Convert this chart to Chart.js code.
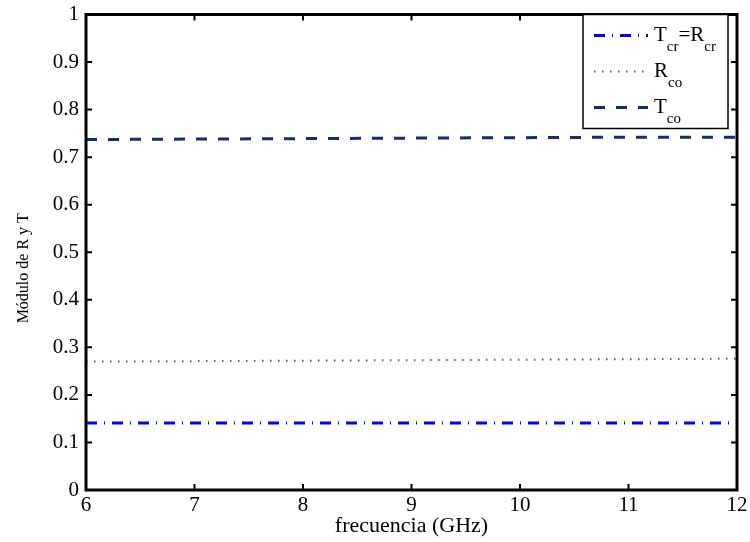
<!DOCTYPE html>
<html>
<head>
<meta charset="utf-8">
<script src="https://cdn.jsdelivr.net/npm/chart.js@4"></script>
<style>
  html, body { margin: 0; padding: 0; background: #fff; }
  #wrap { width: 750px; height: 542px; }
</style>
</head>
<body>
<div id="wrap"><canvas id="chart" width="750" height="542"></canvas></div>
<script>
// frequencies (GHz) read at the x ticks
const freqs = [6, 7, 8, 9, 10, 11, 12];

// |R| and |T| values
const tcrValues = [0.141, 0.141, 0.141, 0.141, 0.141, 0.141, 0.141];
const rcoValues = [0.270, 0.271, 0.272, 0.273, 0.274, 0.275, 0.276];
const tcoValues = [0.737, 0.738, 0.739, 0.740, 0.741, 0.742, 0.742];

// legend entries: main letter + subscript parts
const legendEntries = [
    { parts: [['T', 'cr'], ['=R', 'cr']], color: '#0000ff', width: 3, dash: [11, 7, 1, 7] },
    { parts: [['R', 'co']], color: 'rgb(30,140,30)', width: 2, dash: [1.5, 6.5] },
    { parts: [['T', 'co']], color: 'rgb(20,45,115)', width: 3, dash: [11, 11] }
];

const serif = '"Liberation Serif", "DejaVu Serif", serif';

function toPoints(values) {
    return freqs.map((f, i) => ({ x: f, y: values[i] }));
}

// box around the axes and ticks pointing inward (MATLAB style)
const boxPlugin = {
    id: 'boxPlugin',
    afterDraw(chart) {
        const ctx = chart.ctx;
        const area = chart.chartArea;
        const xs = chart.scales.x;
        const ys = chart.scales.y;
        ctx.save();
        ctx.strokeStyle = '#000';
        ctx.lineWidth = 2;
        const len = 6;
        xs.ticks.forEach(t => {
            const px = xs.getPixelForValue(t.value);
            ctx.beginPath();
            ctx.moveTo(px, area.bottom);
            ctx.lineTo(px, area.bottom - len);
            ctx.moveTo(px, area.top);
            ctx.lineTo(px, area.top + len);
            ctx.stroke();
        });
        ys.ticks.forEach(t => {
            const py = ys.getPixelForValue(t.value);
            ctx.beginPath();
            ctx.moveTo(area.left, py);
            ctx.lineTo(area.left + len, py);
            ctx.moveTo(area.right, py);
            ctx.lineTo(area.right - len, py);
            ctx.stroke();
        });
        ctx.lineWidth = 3;
        ctx.strokeRect(area.left, area.top, area.right - area.left, area.bottom - area.top);
        ctx.restore();
    }
};

// legend with subscripts
const legendPlugin = {
    id: 'legendPlugin',
    afterDraw(chart) {
        const ctx = chart.ctx;
        const area = chart.chartArea;
        const boxRight = area.right - 9;
        const boxLeft = boxRight - 145;
        const boxTop = area.top;
        const boxBottom = boxTop + 114;
        ctx.save();
        ctx.fillStyle = '#fff';
        ctx.fillRect(boxLeft, boxTop, boxRight - boxLeft, boxBottom - boxTop);
        ctx.strokeStyle = '#000';
        ctx.lineWidth = 1.5;
        ctx.strokeRect(boxLeft, boxTop, boxRight - boxLeft, boxBottom - boxTop);

        const rows = [21, 57, 93];
        legendEntries.forEach((e, i) => {
            const y = boxTop + rows[i];
            ctx.strokeStyle = e.color;
            ctx.lineWidth = e.width;
            ctx.setLineDash(e.dash);
            ctx.beginPath();
            ctx.moveTo(boxLeft + 11, y);
            ctx.lineTo(boxLeft + 65, y);
            ctx.stroke();
            ctx.setLineDash([]);

            let x = boxLeft + 71;
            ctx.fillStyle = '#000';
            ctx.textBaseline = 'alphabetic';
            e.parts.forEach(p => {
                ctx.font = '21px ' + serif;
                ctx.fillText(p[0], x, y + 5);
                x += ctx.measureText(p[0]).width;
                ctx.font = '15px ' + serif;
                ctx.fillText(p[1], x, y + 15);
                x += ctx.measureText(p[1]).width;
            });
        });
        ctx.restore();
    }
};

new Chart(document.getElementById('chart'), {
    type: 'line',
    data: {
        datasets: [
            {
                label: 'Tcr=Rcr',
                data: toPoints(tcrValues),
                borderColor: legendEntries[0].color,
                borderWidth: legendEntries[0].width,
                borderDash: legendEntries[0].dash,
                pointRadius: 0,
                fill: false
            },
            {
                label: 'Rco',
                data: toPoints(rcoValues),
                borderColor: legendEntries[1].color,
                borderWidth: legendEntries[1].width,
                borderDash: legendEntries[1].dash,
                pointRadius: 0,
                fill: false
            },
            {
                label: 'Tco',
                data: toPoints(tcoValues),
                borderColor: legendEntries[2].color,
                borderWidth: legendEntries[2].width,
                borderDash: legendEntries[2].dash,
                pointRadius: 0,
                fill: false
            }
        ]
    },
    options: {
        responsive: false,
        animation: false,
        devicePixelRatio: 1,
        layout: {
            padding: { top: 14.5, right: 13, left: 0, bottom: 0 }
        },
        plugins: {
            legend: { display: false },
            tooltip: { enabled: false }
        },
        scales: {
            x: {
                type: 'linear',
                min: 6,
                max: 12,
                grid: { display: false, drawTicks: false },
                border: { display: false },
                ticks: {
                    stepSize: 1,
                    padding: 3,
                    color: '#000',
                    font: { family: serif, size: 21 },
                    maxRotation: 0
                },
                title: {
                    display: true,
                    text: 'frecuencia (GHz)',
                    color: '#000',
                    font: { family: serif, size: 22 },
                    padding: { top: 0, bottom: 3 }
                },
                afterFit(scale) {
                    scale.height = 52;
                    scale.paddingLeft = 0;
                    scale.paddingRight = 0;
                }
            },
            y: {
                min: 0,
                max: 1,
                grid: { display: false, drawTicks: false },
                border: { display: false },
                ticks: {
                    stepSize: 0.1,
                    padding: 7,
                    color: '#000',
                    font: { family: serif, size: 21 },
                    callback: v => String(parseFloat(v.toFixed(1)))
                },
                title: {
                    display: true,
                    text: 'Módulo de R y T        ',
                    color: '#000',
                    font: { family: serif, size: 16 },
                    padding: { top: 14, bottom: 0 }
                },
                afterFit(scale) {
                    scale.width = 86;
                    scale.paddingTop = 0;
                    scale.paddingBottom = 0;
                }
            }
        }
    },
    plugins: [boxPlugin, legendPlugin]
});
</script>
</body>
</html>
